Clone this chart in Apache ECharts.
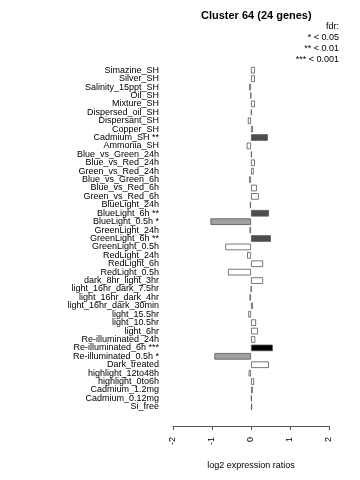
<!DOCTYPE html>
<html>
<head>
<meta charset="utf-8">
<script src="https://cdn.jsdelivr.net/npm/echarts@6/dist/echarts.min.js"></script>
<style>html,body{margin:0;padding:0;background:#fff}#c{width:360px;height:480px}</style>
</head>
<body>
<div id="c"></div>
<script>
const categories = [
  "Simazine_SH","Silver_SH","Salinity_15ppt_SH","Oil_SH","Mixture_SH","Dispersed_oil_SH",
  "Dispersant_SH","Copper_SH","Cadmium_SH **","Ammonia_SH","Blue_vs_Green_24h","Blue_vs_Red_24h",
  "Green_vs_Red_24h","Blue_vs_Green_6h","Blue_vs_Red_6h","Green_vs_Red_6h","BlueLight_24h",
  "BlueLight_6h **","BlueLight_0.5h *","GreenLight_24h","GreenLight_6h **","GreenLight_0.5h",
  "RedLight_24h","RedLight_6h","RedLight_0.5h","dark_8hr_light_3hr","light_16hr_dark_7.5hr",
  "light_16hr_dark_4hr","light_16hr_dark_30min","light_15.5hr","light_10.5hr","light_6hr",
  "Re-illuminated_24h","Re-illuminated_6h ***","Re-illuminated_0.5h *","Dark_treated",
  "highlight_12to48h","highlight_0to6h","Cadmium_1.2mg","Cadmium_0.12mg","Si_free"
];
const values = [
  0.10, 0.10, -0.05, -0.01, 0.10, 0.02,
  -0.08, 0.05, 0.43, -0.11, 0.02, 0.10,
  0.07, -0.05, 0.15, 0.20, -0.03,
  0.46, -1.04, -0.04, 0.51, -0.66,
  -0.10, 0.31, -0.59, 0.31, 0.01,
  -0.04, 0.05, -0.07, 0.13, 0.18,
  0.11, 0.56, -0.94, 0.46,
  -0.06, 0.08, 0.05, 0.02, 0.03
];
const xTicks = [-2, -1, 0, 1, 2];
const fdrLegend = ["fdr:", "* < 0.05", "** < 0.01", "*** < 0.001"];

function fillFor(label) {
  const m = label.match(/(\*+)$/);
  const n = m ? m[1].length : 0;
  return ["#ffffff", "#a0a0a0", "#4d4d4d", "#000000"][n];
}

const data = values.map((v, i) => ({
  value: v,
  itemStyle: { color: fillFor(categories[i]), borderColor: "#555555", borderWidth: 0.8 }
}));

const chart = echarts.init(document.getElementById('c'), null, { renderer: 'canvas' });
chart.setOption({
  animation: false,
  backgroundColor: '#ffffff',
  textStyle: { fontFamily: 'Liberation Sans, Arial, sans-serif' },
  grid: { left: 173, right: 31, top: 66, bottom: 69, containLabel: false },
  xAxis: {
    type: 'value', min: xTicks[0], max: xTicks[xTicks.length - 1], interval: 1,
    offset: 15,
    axisLine: { show: true, lineStyle: { color: '#555555', width: 1 } },
    axisTick: { show: true, length: 4, lineStyle: { color: '#555555' } },
    splitLine: { show: false },
    axisLabel: { rotate: 90, fontSize: 9, color: '#000', margin: 11 },
    name: 'log2 expression ratios', nameLocation: 'middle', nameGap: 35,
    nameTextStyle: { fontSize: 9, color: '#000' }
  },
  yAxis: {
    type: 'category', data: categories, inverse: true,
    axisLine: { show: false }, axisTick: { show: false },
    axisLabel: { fontSize: 9, color: '#000', margin: 14, interval: 0 }
  },
  series: [{
    type: 'bar', data: data, barCategoryGap: '22%',
    emphasis: { disabled: true }
  }],
  graphic: [
    { type: 'text', left: 201, top: 10, style: { text: 'Cluster 64 (24 genes)', font: 'bold 11px Liberation Sans, Arial, sans-serif', fill: '#000' } }
  ].concat(fdrLegend.map((t, i) => ({
    type: 'text', right: 21, top: 22 + i * 11,
    style: { text: t, font: '9px Liberation Sans, Arial, sans-serif', fill: '#000', textAlign: 'right' }
  })))
});
</script>
</body>
</html>
